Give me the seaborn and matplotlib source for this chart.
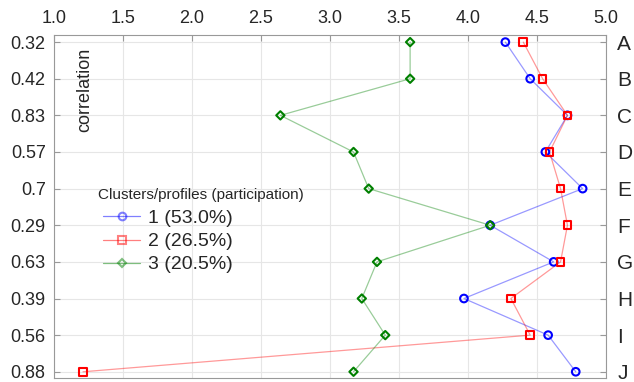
import numpy as np
import pandas as pd
import matplotlib
matplotlib.use("Agg")
import matplotlib.pyplot as plt
import seaborn as sns
from matplotlib.lines import Line2D

# data
rows = ["A", "B", "C", "D", "E", "F", "G", "H", "I", "J"]
corr_labels = ["0.32", "0.42", "0.83", "0.57", "0.7", "0.29", "0.63", "0.39", "0.56", "0.88"]
cluster1 = [4.27, 4.45, 4.72, 4.56, 4.83, 4.16, 4.62, 3.97, 4.58, 4.78]
cluster2 = [4.40, 4.54, 4.72, 4.59, 4.67, 4.72, 4.67, 4.31, 4.45, 1.21]
cluster3 = [3.58, 3.58, 2.64, 3.17, 3.28, 4.16, 3.34, 3.23, 3.40, 3.17]
legend_labels = ["1 (53.0%)", "2 (26.5%)", "3 (20.5%)"]
x_ticks = [1.0, 1.5, 2.0, 2.5, 3.0, 3.5, 4.0, 4.5, 5.0]

sns.set_style("white")
plt.rcParams["font.family"] = ["Liberation Sans", "DejaVu Sans"]

pos = np.arange(len(rows))
df = pd.concat([
    pd.DataFrame({"value": cluster1, "pos": pos, "cluster": legend_labels[0]}),
    pd.DataFrame({"value": cluster2, "pos": pos, "cluster": legend_labels[1]}),
    pd.DataFrame({"value": cluster3, "pos": pos, "cluster": legend_labels[2]}),
])

colors = ["#0000ff", "#ff0000", "#008000"]
markers = ["o", "s", "D"]
msizes = [30, 30, 18]

fig = plt.figure(figsize=(6.34, 3.82), dpi=100)
ax = fig.add_axes([0.0852, 0.0105, 0.8708, 0.8975])

for i, lab in enumerate(legend_labels):
    sub = df[df["cluster"] == lab]
    sns.lineplot(data=sub, x="value", y="pos", sort=False, estimator=None,
                 color=colors[i], alpha=0.4, linewidth=0.9, ax=ax, legend=False)
    sns.scatterplot(data=sub, x="value", y="pos", marker=markers[i], s=msizes[i],
                    facecolor="none", edgecolor=colors[i], linewidth=1.5,
                    ax=ax, legend=False, zorder=5)

ax.set_xlim(1.0, 5.0)
ax.set_ylim(9.17, -0.19)
ax.set_xticks(x_ticks)
ax.set_xticklabels([f"{t:.1f}" for t in x_ticks])
ax.xaxis.tick_top()
ax.set_yticks(pos)
ax.set_yticklabels(corr_labels)
ax.set_xlabel("")
ax.set_ylabel("")
ax.grid(True, color="#e6e6e6", linewidth=0.8)
ax.tick_params(axis="both", labelsize=13, direction="in", length=4, color="#999999", pad=6)
for sp in ax.spines.values():
    sp.set_color("#999999")

ax2 = ax.twinx()
ax2.set_ylim(ax.get_ylim())
ax2.set_yticks(pos)
ax2.set_yticklabels(rows)
ax2.tick_params(axis="y", labelsize=15, direction="in", length=4, color="#999999", pad=8)
for sp in ax2.spines.values():
    sp.set_visible(False)

ax.text(0.055, 0.84, "correlation", transform=ax.transAxes, rotation=90,
        fontsize=13, ha="center", va="center")

# legend title drawn as text so the spacing can follow the original
ax.text(0.080, 0.533, "Clusters/profiles (participation)", transform=ax.transAxes,
        fontsize=11, ha="left", va="center")

handles = [Line2D([0], [0], color=colors[i], alpha=0.5, linewidth=0.9,
                  marker=markers[i], markersize=[5.5, 5.5, 4.2][i], markerfacecolor="none",
                  markeredgecolor=colors[i], markeredgewidth=1.5) for i in range(3)]
leg = ax.legend(handles, legend_labels,
                loc="upper left", bbox_to_anchor=(0.089, 0.491), frameon=False,
                fontsize=14, handlelength=1.9,
                labelspacing=0.28, borderaxespad=0, handletextpad=0.4,
                borderpad=0)

fig.savefig("out.png", dpi=100)
